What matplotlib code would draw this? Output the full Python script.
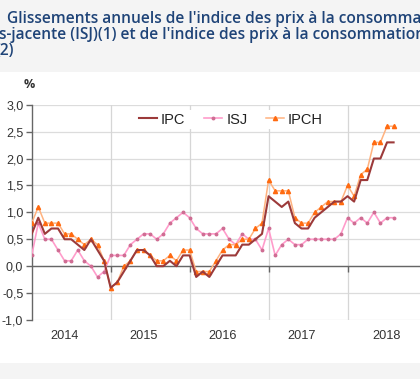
import matplotlib
matplotlib.use("Agg")
import matplotlib.pyplot as plt
from matplotlib.patches import Rectangle

# glissements annuels, janvier 2014 -> août 2018 (en %)
ipc = [0.6, 0.9, 0.6, 0.7, 0.7, 0.5, 0.5, 0.4, 0.3, 0.5, 0.3, 0.1,
       -0.4, -0.3, -0.1, 0.1, 0.3, 0.3, 0.2, 0.0, 0.0, 0.1, 0.0, 0.2,
       0.2, -0.2, -0.1, -0.2, 0.0, 0.2, 0.2, 0.2, 0.4, 0.4, 0.5, 0.6,
       1.3, 1.2, 1.1, 1.2, 0.8, 0.7, 0.7, 0.9, 1.0, 1.1, 1.2, 1.2,
       1.3, 1.2, 1.6, 1.6, 2.0, 2.0, 2.3, 2.3]
isj = [0.2, 0.8, 0.5, 0.5, 0.3, 0.1, 0.1, 0.3, 0.1, 0.0, -0.2, -0.1,
       0.2, 0.2, 0.2, 0.4, 0.5, 0.6, 0.6, 0.5, 0.6, 0.8, 0.9, 1.0,
       0.9, 0.7, 0.6, 0.6, 0.6, 0.7, 0.5, 0.4, 0.6, 0.5, 0.5, 0.3,
       0.7, 0.2, 0.4, 0.5, 0.4, 0.4, 0.5, 0.5, 0.5, 0.5, 0.5, 0.6,
       0.9, 0.8, 0.9, 0.8, 1.0, 0.8, 0.9, 0.9]
ipch = [0.8, 1.1, 0.8, 0.8, 0.8, 0.6, 0.6, 0.5, 0.4, 0.5, 0.4, 0.1,
        -0.4, -0.3, 0.0, 0.1, 0.3, 0.3, 0.2, 0.1, 0.1, 0.2, 0.1, 0.3,
        0.3, -0.1, -0.1, -0.1, 0.1, 0.3, 0.4, 0.4, 0.5, 0.5, 0.7, 0.8,
        1.6, 1.4, 1.4, 1.4, 0.9, 0.8, 0.8, 1.0, 1.1, 1.2, 1.2, 1.2,
        1.5, 1.3, 1.7, 1.8, 2.3, 2.3, 2.6, 2.6]
years = ["2014", "2015", "2016", "2017", "2018"]
year_label_pos = [5, 17, 29, 41, 54]
year_bounds = [12, 24, 36, 48]
yticks = [-1.0, -0.5, 0.0, 0.5, 1.0, 1.5, 2.0, 2.5, 3.0]

W, H = 420, 379
fig = plt.figure(figsize=(W / 100, H / 100), dpi=100)
fig.patch.set_facecolor("white")

# bandeaux gris (titre et bas)
fig.patches.append(Rectangle((0, 1 - 72 / H), 1, 72 / H, transform=fig.transFigure,
                             facecolor="#f4f4f4", edgecolor="none", zorder=0))
fig.patches.append(Rectangle((0, 0), 1, 16 / H, transform=fig.transFigure,
                             facecolor="#f4f4f4", edgecolor="none", zorder=0))

# titre (coupé par le bord de l'image, comme dans l'original)
title_color = "#1f4478"
tfont = dict(family=["Open Sans", "DejaVu Sans"], fontsize=11.2, color=title_color,
             weight="semibold", va="baseline")
fig.text(7 / W, 1 - 23 / H, "Glissements annuels de l'indice des prix à la consommation (IPC)", **tfont)
fig.text(-1 / W, 1 - 39 / H, "s-jacente (ISJ)(1) et de l'indice des prix à la consommation harmonisé", **tfont)
fig.text(-5 / W, 1 - 55 / H, "(2)", **tfont)

fig.text(24 / W, 1 - 84 / H, "%", fontsize=9, color="#333333", weight="bold",
         family=["Open Sans", "DejaVu Sans"], va="center")

ax_left, ax_right = 31.7, 426.5
ax_top, ax_bot = 104.7, 320
ax = fig.add_axes([ax_left / W, 1 - ax_bot / H, (ax_right - ax_left) / W, (ax_bot - ax_top) / H])
ax.set_facecolor("white")
ax.set_xlim(0, 60)
ax.set_ylim(-1, 3)

x = list(range(len(ipc)))
l_isj, = ax.plot(x, isj, color="#ff9ccb", lw=1.2, marker="o", ms=1.8,
                 mfc="#cf6d93", mec="#cf6d93", zorder=3, label="ISJ")
l_ipch, = ax.plot(x, ipch, color="#ffb27f", lw=1.1, marker="^", ms=3.0,
                  mfc="#ff6a10", mec="#ff6a10", zorder=4, label="IPCH")
l_ipc, = ax.plot(x, ipc, color="#9c3a3a", lw=1.5, zorder=5, label="IPC")

# grille
for v in yticks:
    ax.axhline(v, color="#dcdcdc", lw=0.9, zorder=1)
for b in year_bounds:
    ax.axvline(b, color="#d6d6d6", lw=0.9, zorder=1)
ax.axhline(0, color="#666666", lw=1.0, zorder=2)

for s in ["top", "right", "bottom"]:
    ax.spines[s].set_visible(False)
ax.spines["left"].set_color("#666666")
ax.spines["left"].set_linewidth(1.0)

ax.set_yticks(yticks)
ax.set_yticklabels([f"{v:.1f}".replace(".", ",") for v in yticks],
                   fontsize=9, color="#333333", family=["Liberation Sans"])
ax.tick_params(axis="y", length=4, width=1, color="#666666", pad=2)

# petites graduations sur la ligne zéro
ax.set_xticks(year_bounds)
ax.set_xticklabels([])
ax.spines["bottom"].set_position(("data", 0))
ax.tick_params(axis="x", length=4, width=1, color="#666666")
for lab, pos in zip(years, year_label_pos):
    ax.text(pos, -0.075, lab, transform=ax.get_xaxis_transform(), ha="center", va="center",
            fontsize=9.2, color="#333333", family=["Liberation Sans"])

leg = ax.legend(handles=[l_ipc, l_isj, l_ipch], ncol=3, loc="center",
                bbox_to_anchor=(0.505, 0.931), frameon=True, fancybox=False,
                handlelength=1.2, handletextpad=0.3, columnspacing=1.3,
                borderpad=0.2, prop={"family": "Liberation Sans", "size": 10.5})
leg.get_frame().set_facecolor("white")
leg.get_frame().set_edgecolor("none")
leg.get_frame().set_alpha(1)
for t in leg.get_texts():
    t.set_color("#222222")

fig.savefig("out.png", dpi=100)
